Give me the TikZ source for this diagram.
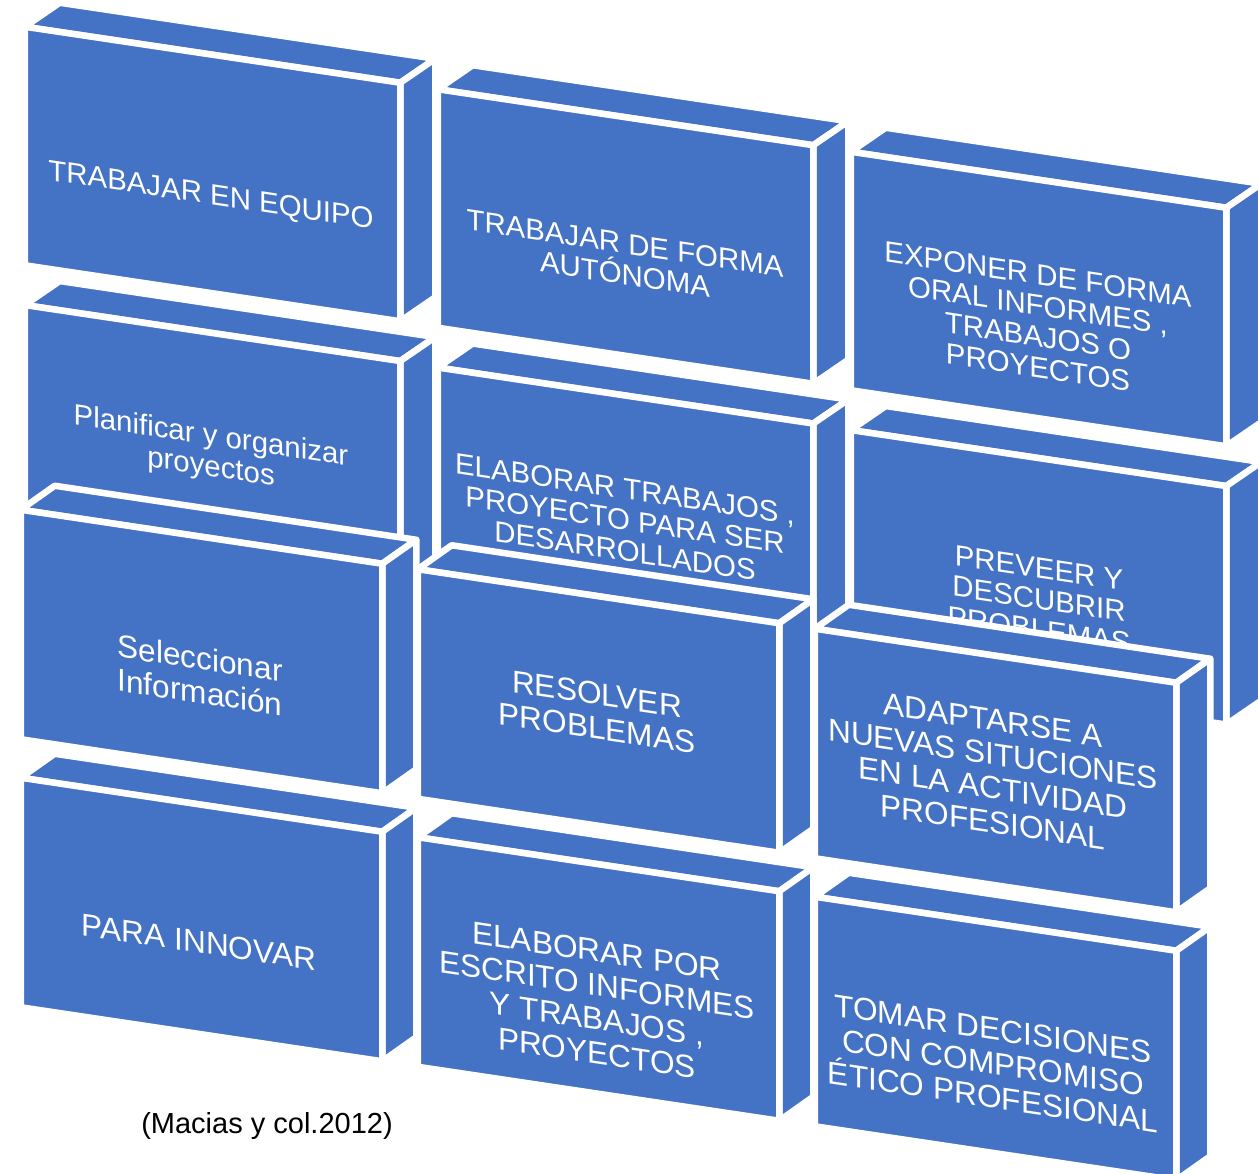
\documentclass[tikz,border=0pt]{standalone}
\usepackage{fontspec}
\setmainfont{Liberation Sans}
\definecolor{boxblue}{HTML}{4472C4}
\tikzset{
    face/.style={fill=boxblue, draw=white, line width=6.5pt, line join=round},
    backtext/.style={text=white, align=center, inner sep=0pt, yslant=-0.15,
        font=\fontsize{29.4}{31}\selectfont},
    fronttext/.style={backtext, font=\fontsize{31.6}{34}\selectfont},
    source/.style={inner sep=0pt, font=\fontsize{29}{34}\selectfont},
}

\begin{document}
\begin{tikzpicture}[x=1pt, y=-1pt]
    \path[use as bounding box, clip] (0,0) rectangle (1258,1174);
    % back wall
    \foreach \r/\c in {0/0,0/1,0/2,1/0,1/1,1/2} {
        \coordinate (B\r\c) at (24.75+413*\c, 26.75+278.3*\r+62.5*\c);
        \path[face] (B\r\c) -- ++(35,-24) -- ++(375.5,56) -- ++(-35,24) -- cycle;
        \path[face] (B\r\c) ++(375.5,56) -- ++(35,-24) -- ++(0,238.5) -- ++(-35,24) -- cycle;
        \path[face] (B\r\c) -- ++(375.5,56) -- ++(0,238.5) -- ++(-375.5,-56) -- cycle;
    }
    \node[backtext] (equipo) at (211,197) {TRABAJAR EN EQUIPO};
    \node[backtext] (autonoma) at (625,259) {TRABAJAR DE FORMA\\AUTÓNOMA};
    \node[backtext] (exponer) at (1038,321) {EXPONER DE FORMA\\ORAL INFORMES ,\\TRABAJOS O\\PROYECTOS};
    \node[backtext] (planificar) at (211,453) {Planificar y organizar\\proyectos};
    \node[backtext] (elaborar) at (625,520) {ELABORAR TRABAJOS ,\\PROYECTO PARA SER\\DESARROLLADOS};
    \node[backtext] (preveer) at (1039,599) {PREVEER Y\\DESCUBRIR\\PROBLEMAS};
    % front wall
    \foreach \r/\c in {0/0,0/1,0/2,1/0,1/1,1/2} {
        \coordinate (F\r\c) at (20.75+397*\c, 509.75+268*\r+59.5*\c);
        \path[face] (F\r\c) -- ++(34,-24) -- ++(361.5,54) -- ++(-34,24) -- cycle;
        \path[face] (F\r\c) ++(361.5,54) -- ++(34,-24) -- ++(0,229.5) -- ++(-34,24) -- cycle;
        \path[face] (F\r\c) -- ++(361.5,54) -- ++(0,229.5) -- ++(-361.5,-54) -- cycle;
    }
    \node[fronttext] (seleccionar) at (200,675) {Seleccionar\\Información};
    \node[fronttext] (resolver) at (597,711) {RESOLVER\\PROBLEMAS};
    \node[fronttext] (adaptarse) at (993,771) {ADAPTARSE A\\NUEVAS SITUCIONES\\EN LA ACTIVIDAD\\PROFESIONAL};
    \node[fronttext] (innovar) at (199,942) {PARA INNOVAR};
    \node[fronttext] (escrito) at (597,1002) {ELABORAR POR\\ESCRITO INFORMES\\Y TRABAJOS ,\\PROYECTOS};
    \node[fronttext] (decisiones) at (993,1063) {TOMAR DECISIONES\\CON COMPROMISO\\ÉTICO PROFESIONAL};
    \node[source] (fuente) at (267,1126) {(Macias y col.2012)};
\end{tikzpicture}
\end{document}
